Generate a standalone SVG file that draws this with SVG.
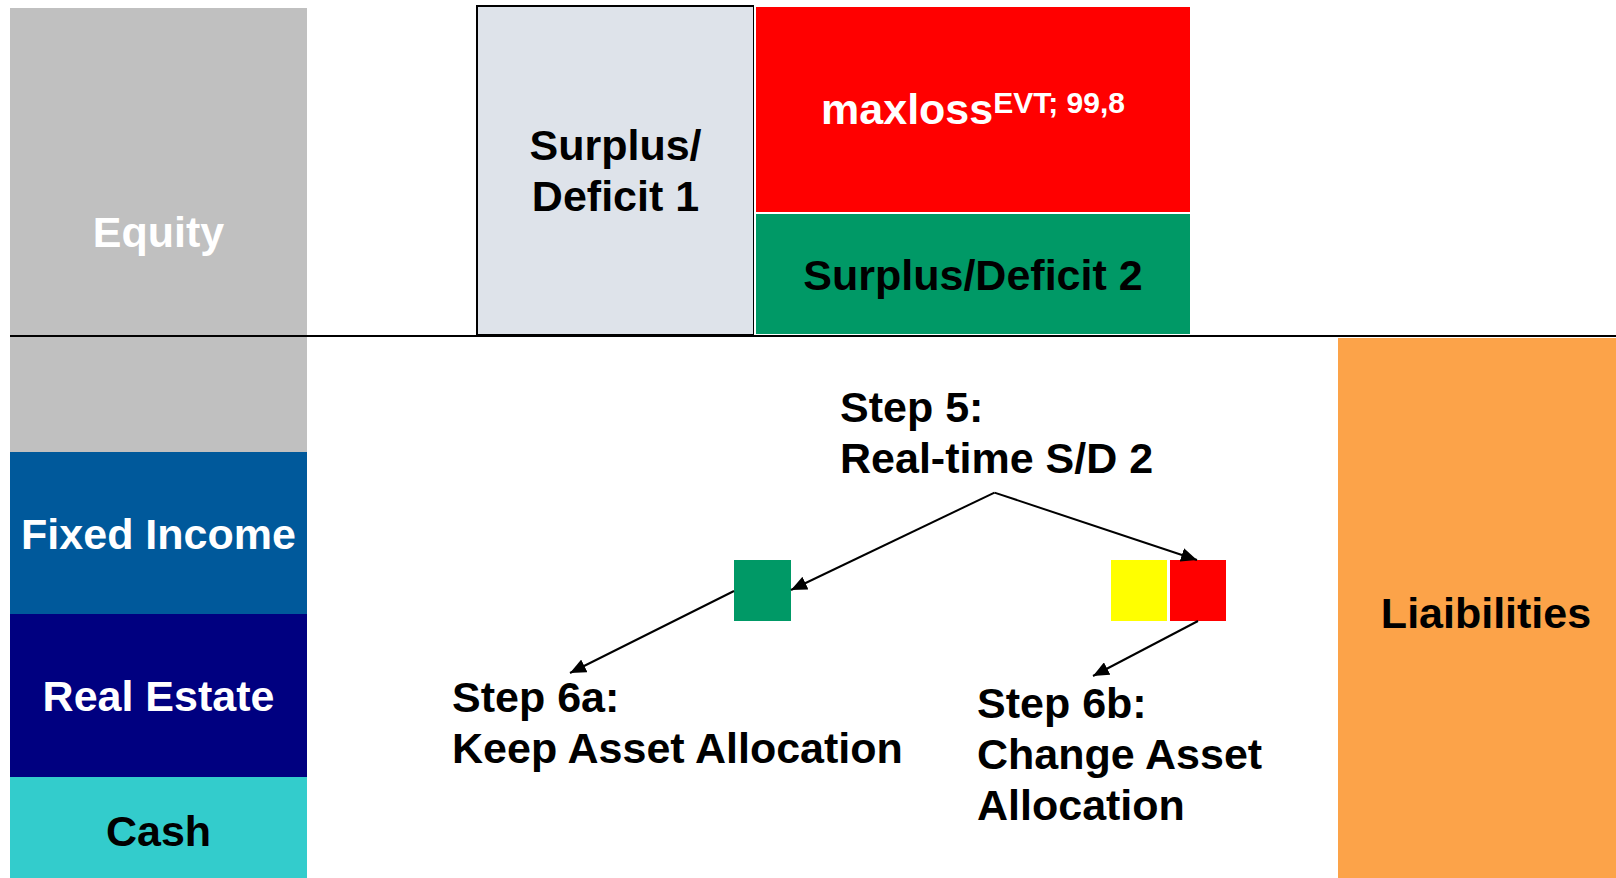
<svg xmlns="http://www.w3.org/2000/svg" width="1616" height="878" viewBox="0 0 1616 878">
<style>
text{font-family:"Liberation Sans",Arial,sans-serif;font-weight:bold;font-size:43px}
.w{fill:#ffffff}
.k{fill:#000000}
.c{text-anchor:middle}
.conn{stroke:#000;stroke-width:2;fill:none}
</style>
<defs>
<marker id="ah" markerUnits="userSpaceOnUse" markerWidth="18" markerHeight="14" refX="16" refY="7" orient="auto">
<path d="M0,0 L16,7 L0,14 Z" fill="#000"/>
</marker>
</defs>
<rect width="1616" height="878" fill="#ffffff"/>
<g id="equity">
<rect x="10" y="8" width="297" height="444" fill="#C0C0C0"/>
<text class="w c" x="158.5" y="247">Equity</text>
</g>
<g id="fixed-income">
<rect x="10" y="452" width="297" height="162" fill="#00599B"/>
<text class="w c" x="158.5" y="549">Fixed Income</text>
</g>
<g id="real-estate">
<rect x="10" y="614" width="297" height="163" fill="#000080"/>
<text class="w c" x="158.5" y="711">Real Estate</text>
</g>
<g id="cash">
<rect x="10" y="777" width="297" height="101" fill="#33CCCC"/>
<text class="k c" x="158.5" y="846">Cash</text>
</g>
<g id="surplus1">
<rect x="477" y="6" width="277" height="329" fill="#DEE3EA" stroke="#000" stroke-width="2"/>
<text class="k c" x="615.5" y="160">Surplus/</text>
<text class="k c" x="615.5" y="211">Deficit 1</text>
</g>
<g id="maxloss">
<rect x="755" y="6" width="436" height="207" fill="#FF0000" stroke="#ffffff" stroke-width="2"/>
<text class="w c" x="973" y="124">maxloss<tspan font-size="30" dy="-11">EVT; 99,8</tspan></text>
</g>
<g id="surplus2">
<rect x="755" y="213" width="436" height="122" fill="#009966" stroke="#ffffff" stroke-width="2"/>
<text class="k c" x="973" y="290">Surplus/Deficit 2</text>
</g>
<g id="divider">
<line x1="10" y1="336" x2="1616" y2="336" stroke="#000" stroke-width="2"/>
</g>
<g id="liabilities">
<rect x="1338" y="338" width="278" height="540" fill="#FCA349"/>
<text class="k c" x="1486" y="628">Liaibilities</text>
</g>
<g id="step5">
<text class="k" x="840" y="422">Step 5:</text>
<text class="k" x="840" y="473">Real-time S/D 2</text>
</g>
<g id="green-signal">
<rect x="734" y="560" width="57" height="61" fill="#009966"/>
</g>
<g id="yellow-signal">
<rect x="1111" y="560" width="56" height="61" fill="#FFFF00"/>
</g>
<g id="red-signal">
<rect x="1170" y="560" width="56" height="61" fill="#FF0000"/>
</g>
<g id="step6a">
<text class="k" x="452" y="712">Step 6a:</text>
<text class="k" x="452" y="763">Keep Asset Allocation</text>
</g>
<g id="step6b">
<text class="k" x="977" y="718">Step 6b:</text>
<text class="k" x="977" y="769">Change Asset</text>
<text class="k" x="977" y="820">Allocation</text>
</g>
<g id="connectors">
<line class="conn" x1="994.5" y1="492.6" x2="791" y2="590" marker-end="url(#ah)"/>
<line class="conn" x1="994.5" y1="492.6" x2="1197" y2="560" marker-end="url(#ah)"/>
<line class="conn" x1="734" y1="591" x2="570" y2="673" marker-end="url(#ah)"/>
<line class="conn" x1="1198" y1="621" x2="1093" y2="676" marker-end="url(#ah)"/>
</g>
</svg>
